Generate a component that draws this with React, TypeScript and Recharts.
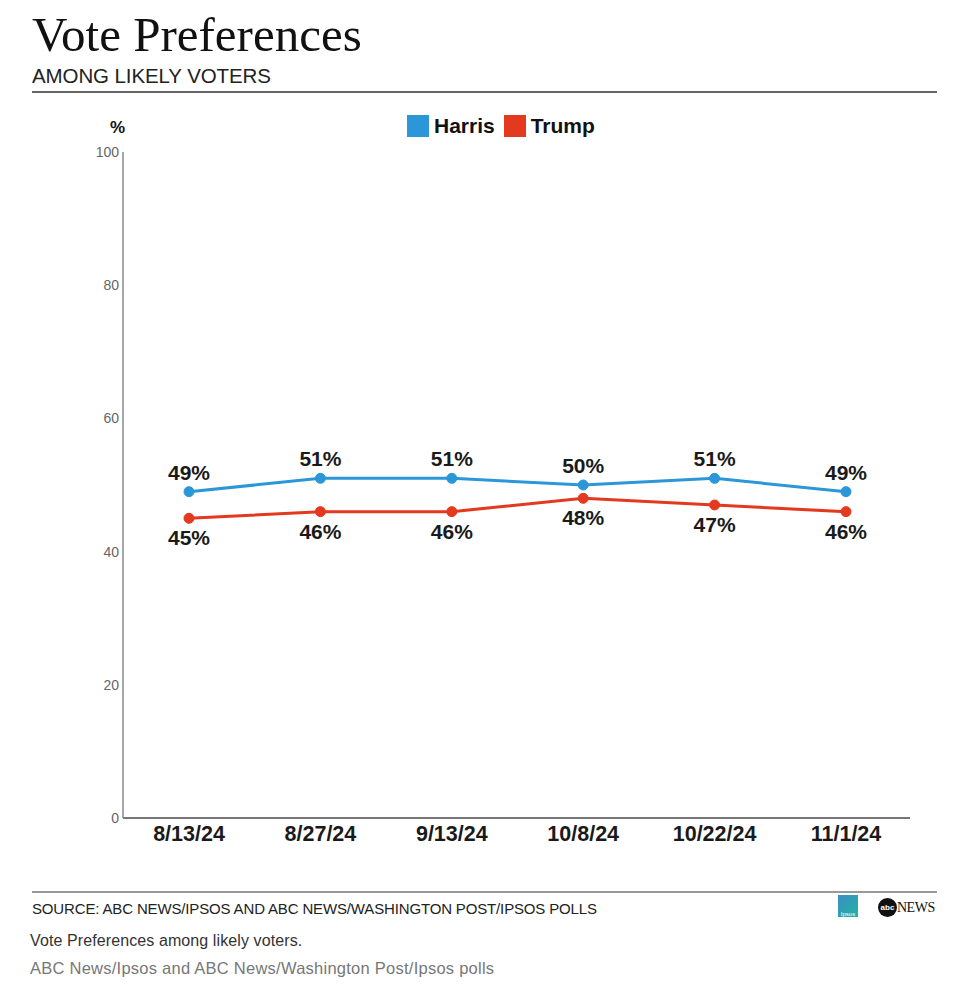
import React from 'react';
import { LineChart, Line, XAxis, YAxis, LabelList } from 'recharts';

const dates = ['8/13/24', '8/27/24', '9/13/24', '10/8/24', '10/22/24', '11/1/24'];
const harris = [49, 51, 51, 50, 51, 49];
const trump = [45, 46, 46, 48, 47, 46];
const yTicks = [0, 20, 40, 60, 80, 100];

const HARRIS_COLOR = '#2b97d9';
const TRUMP_COLOR = '#e2391f';
const SANS = '"Liberation Sans", Arial, sans-serif';

const data = dates.map((d, i) => ({ date: d, Harris: harris[i], Trump: trump[i] }));

const LegendItem = ({ color, label }: { color: string; label: string }) => (
  <div style={{ display: 'flex', alignItems: 'center', marginRight: 9 }}>
    <div style={{ width: 22, height: 22, background: color, marginRight: 5 }} />
    <span style={{ fontSize: 21, fontWeight: 700, color: '#111' }}>{label}</span>
  </div>
);

const App = () => {
  return (
    <div style={{ position: 'absolute', left: 0, top: 0, width: 960, height: 996, background: '#fff', fontFamily: SANS }}>
      <div style={{ position: 'absolute', left: 32, top: 7, fontFamily: '"Liberation Serif", "Times New Roman", serif', fontSize: 49, color: '#111', lineHeight: '56px' }}>
        Vote Preferences
      </div>
      <div style={{ position: 'absolute', left: 32, top: 64, fontSize: 20.5, color: '#222', lineHeight: '24px', letterSpacing: -0.1 }}>
        AMONG LIKELY VOTERS
      </div>
      <div style={{ position: 'absolute', left: 32, top: 91, width: 905, height: 2, background: '#666' }} />

      <div style={{ position: 'absolute', left: 407, top: 114, display: 'flex' }}>
        <LegendItem color={HARRIS_COLOR} label="Harris" />
        <LegendItem color={TRUMP_COLOR} label="Trump" />
      </div>
      <div style={{ position: 'absolute', left: 110, top: 118, fontSize: 17, fontWeight: 700, color: '#111' }}>%</div>

      <div style={{ position: 'absolute', left: 0, top: 100 }}>
        <LineChart width={960} height={760} data={data} margin={{ top: 52, right: 50, left: 0, bottom: 12 }}>
          <XAxis
            dataKey="date"
            height={30}
            padding={{ left: 66, right: 64 }}
            axisLine={{ stroke: '#777', strokeWidth: 2 }}
            tickLine={false}
            tickSize={0}
            tickMargin={8}
            tick={{ fill: '#1a1a1a', fontSize: 21.5, fontWeight: 700, fontFamily: SANS }}
          />
          <YAxis
            width={123}
            domain={[0, 100]}
            ticks={yTicks}
            interval={0}
            axisLine={{ stroke: '#888', strokeWidth: 1.5 }}
            tickLine={false}
            tickSize={0}
            tickMargin={4}
            tick={{ fill: '#666', fontSize: 14, fontFamily: SANS }}
          />
          <Line
            dataKey="Harris"
            stroke={HARRIS_COLOR}
            strokeWidth={3}
            dot={{ r: 5, fill: HARRIS_COLOR, stroke: HARRIS_COLOR, strokeWidth: 1 }}
            isAnimationActive={false}
          >
            <LabelList
              dataKey="Harris"
              position="top"
              offset={12}
              formatter={(v: number) => `${v}%`}
              style={{ fill: '#1a1a1a', fontSize: 21, fontWeight: 700, fontFamily: SANS }}
            />
          </Line>
          <Line
            dataKey="Trump"
            stroke={TRUMP_COLOR}
            strokeWidth={3}
            dot={{ r: 5, fill: TRUMP_COLOR, stroke: TRUMP_COLOR, strokeWidth: 1 }}
            isAnimationActive={false}
          >
            <LabelList
              dataKey="Trump"
              position="bottom"
              offset={12}
              formatter={(v: number) => `${v}%`}
              style={{ fill: '#1a1a1a', fontSize: 21, fontWeight: 700, fontFamily: SANS }}
            />
          </Line>
        </LineChart>
      </div>

      <div style={{ position: 'absolute', left: 32, top: 891, width: 905, height: 1.5, background: '#999' }} />
      <div style={{ position: 'absolute', left: 32, top: 900, fontSize: 15, color: '#222', letterSpacing: -0.15, lineHeight: '18px' }}>
        SOURCE: ABC NEWS/IPSOS AND ABC NEWS/WASHINGTON POST/IPSOS POLLS
      </div>
      <div style={{ position: 'absolute', left: 838, top: 895, width: 20, height: 22, background: 'linear-gradient(135deg, #3a8fc4, #24b3a0)', color: '#fff', fontSize: 6, display: 'flex', alignItems: 'flex-end', justifyContent: 'center' }}>
        Ipsos
      </div>
      <div style={{ position: 'absolute', left: 878, top: 898, display: 'flex', alignItems: 'center' }}>
        <div style={{ width: 19, height: 19, borderRadius: '50%', background: '#111', color: '#fff', fontSize: 8, fontWeight: 700, display: 'flex', alignItems: 'center', justifyContent: 'center' }}>abc</div>
        <span style={{ fontFamily: '"Liberation Serif", serif', fontSize: 14, color: '#111', letterSpacing: -0.5 }}>NEWS</span>
      </div>
      <div style={{ position: 'absolute', left: 30, top: 931, fontSize: 16, color: '#333', letterSpacing: 0.1, lineHeight: '19px' }}>
        Vote Preferences among likely voters.
      </div>
      <div style={{ position: 'absolute', left: 30, top: 959, fontSize: 16.5, color: '#777', letterSpacing: 0.25, lineHeight: '19px' }}>
        ABC News/Ipsos and ABC News/Washington Post/Ipsos polls
      </div>
    </div>
  );
};

export default App;
